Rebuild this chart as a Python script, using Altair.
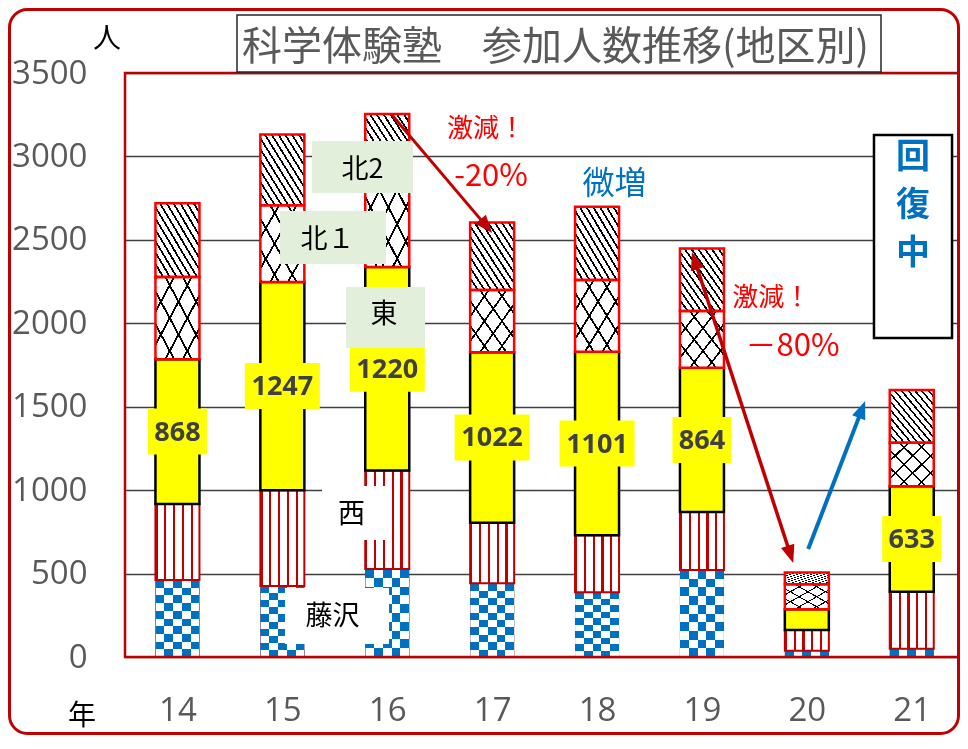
import math
import altair as alt
import pandas as pd

# ---------------- data ----------------
years = [14, 15, 16, 17, 18, 19, 20, 21]
fujisawa = [461, 425, 527, 442, 388, 521, 38, 50]
nishi = [456, 575, 590, 363, 341, 348, 124, 341]
higashi = [868, 1247, 1220, 1022, 1101, 864, 124, 633]
kita1 = [492, 460, 513, 372, 429, 340, 150, 260]
kita2 = [443, 425, 405, 405, 440, 375, 71, 316]
regions = ["藤沢", "西", "東", "北1", "北2"]
y_ticks = [0, 500, 1000, 1500, 2000, 2500, 3000, 3500]
title_text = "科学体験塾　参加人数推移(地区別)"

W, H = 835, 584
X_DOM = [13.5, 21.46]
Y_DOM = [0, 3500]
SX = W / (X_DOM[1] - X_DOM[0])
SY = H / (Y_DOM[1] - Y_DOM[0])

rows = []
for i, yr in enumerate(years):
    base = 0
    for reg, vals in zip(regions, [fujisawa, nishi, higashi, kita1, kita2]):
        v = vals[i]
        rows.append({"year": yr, "region": reg, "value": v,
                     "y0": base, "y1": base + v, "mid": base + v / 2})
        base += v
df = pd.DataFrame(rows)
one = pd.DataFrame({"k": [0]})

FONT_JP = "Noto Sans CJK JP"
FONT_NUM = "Open Sans"

xscale = alt.Scale(domain=X_DOM, nice=False, zero=False, padding=0)
yscale = alt.Scale(domain=Y_DOM, nice=False, padding=0)
xaxis = alt.Axis(values=years, format="d", labelFont=FONT_NUM, labelFontSize=33,
                 labelColor="#595959", labelPadding=53, labelBaseline="middle",
                 ticks=False, domain=False, grid=False, title=None)
yaxis = alt.Axis(values=y_ticks, format="d", labelFont=FONT_NUM, labelFontSize=33,
                 labelColor="#595959", labelPadding=38, ticks=False, domain=False,
                 grid=True, gridColor="#404040", gridWidth=1.3, title=None)


def X(f):
    return alt.X(f, type="quantitative", scale=xscale, axis=xaxis)


def Y(f):
    return alt.Y(f, type="quantitative", scale=yscale, axis=yaxis)


def bands(colors, x1, y1, x2, y2):
    n = len(colors)
    stops = []
    for i, c in enumerate(colors):
        stops.append(alt.GradientStop(offset=round(i / n, 4), color=c))
        stops.append(alt.GradientStop(offset=round((i + 1) / n, 4), color=c))
    return alt.LinearGradient(gradient="linear", stops=stops, x1=x1, y1=y1, x2=x2, y2=y2)


def lines(n, line, bg, frac, x1, y1, x2, y2):
    stops = []
    for i in range(n):
        a, b, c = i / n, (i + frac) / n, (i + 1) / n
        for off, col in [(a, line), (b, line), (b, bg), (c, bg)]:
            stops.append(alt.GradientStop(offset=round(off, 4), color=col))
    return alt.LinearGradient(gradient="linear", stops=stops, x1=x1, y1=y1, x2=x2, y2=y2)


def seg(filt, **mark):
    return (alt.Chart(df).transform_filter(filt)
            .mark_bar(size=44, **mark)
            .encode(x=X("year"), y=Y("y0"), y2=alt.Y2("y1")))


isF = alt.datum.region == "藤沢"
layers = []
# 藤沢: checker pattern built from stripes + blending
layers.append(seg(isF, fill=bands(["#000000", "#ffffff"] * 2 + ["#000000"], 0, 0, 1, 0)))
layers.append(seg(isF & (alt.datum.value > 100),
                  fill=bands(["#000000", "#ffffff"] * 5, 0, 0, 0, 1), blend="difference"))
layers.append(seg(isF, fill="#0070C0", blend="lighten"))
# 西: vertical red stripes
layers.append(seg(alt.datum.region == "西",
                  fill=lines(5, "#C00000", "#ffffff", 0.25, 0, 0, 1, 0),
                  stroke="#C00000", strokeWidth=2))
# 東: yellow
layers.append(seg(alt.datum.region == "東", fill="#FFFF00", stroke="#000000", strokeWidth=2.5))
# 北1: cross hatch
layers.append(seg(alt.datum.region == "北1", fill=lines(5, "#000000", "#ffffff", 0.12, 0, 0, 1, 1)))
layers.append(seg(alt.datum.region == "北1",
                  fill=lines(5, "#000000", "#ffffff", 0.12, 0, 1, 1, 0), blend="multiply"))
# 北2: dense diagonal hatch
layers.append(seg(alt.datum.region == "北2", fill=lines(13, "#000000", "#ffffff", 0.3, 0, 1, 1, 0)))
layers.append(seg(alt.datum.region == "北1", fill="transparent", stroke="#FF0000", strokeWidth=2.5))
layers.append(seg(alt.datum.region == "北2", fill="transparent", stroke="#FF0000", strokeWidth=2.5))

# value labels on 東
lab = alt.Chart(df).transform_filter((alt.datum.region == "東") & (alt.datum.value > 200))
layers.append(lab.transform_filter(alt.datum.value >= 1000).mark_point(
    shape="M-1,-0.613L1,-0.613L1,0.613L-1,0.613Z", size=75 * 75, filled=True,
    color="#FFFF00", opacity=1, strokeWidth=0).encode(x=X("year"), y=Y("mid")))
layers.append(lab.transform_filter(alt.datum.value < 1000).mark_point(
    shape="M-1,-0.78L1,-0.78L1,0.78L-1,0.78Z", size=59 * 59, filled=True,
    color="#FFFF00", opacity=1, strokeWidth=0).encode(x=X("year"), y=Y("mid")))
layers.append(lab.mark_text(font=FONT_NUM, fontWeight="bold", fontSize=27, color="#404040",
                            baseline="middle", dy=1).encode(
    x=X("year"), y=Y("mid"), text=alt.Text("value:Q", format="d")))

# plot frame
layers.append(alt.Chart(one).mark_rect(fill="transparent", stroke="#C00000", strokeWidth=2.5)
              .encode(x=alt.value(0), x2=alt.value(W), y=alt.value(0), y2=alt.value(H)))


def abox(x1, x2, y1, y2, fill, stroke=None, sw=0):
    d = pd.DataFrame({"bx": [x1], "bx2": [x2], "by": [y1], "by2": [y2]})
    m = {"fill": fill}
    if stroke:
        m.update(stroke=stroke, strokeWidth=sw)
    return alt.Chart(d).mark_rect(**m).encode(
        x=X("bx"), x2=alt.X2("bx2"), y=Y("by"), y2=alt.Y2("by2"))


def atext(t, x, y, color, size, weight="normal", **kw):
    d = pd.DataFrame({"tx": [x], "ty": [y], "t": [t]})
    return alt.Chart(d).mark_text(font=FONT_JP, fontSize=size, color=color, fontWeight=weight,
                                  baseline="middle", align="center", dy=2, **kw).encode(
        x=X("tx"), y=Y("ty"), text="t:N")


# arrows
arrow_specs = [
    (16.045, 3248, 17.0, 2541, "#C00000", 3, False),
    (18.905, 2427, 19.870, 563, "#C00000", 3.5, True),
    (20.013, 647, 20.556, 1534, "#0070C0", 4, False),
]
HEAD = "M0,0L0.7,1.8L-0.7,1.8Z"
for (x1, y1, x2, y2, col, sw, both) in arrow_specs:
    dxp = (x2 - x1) * SX
    dyp = -(y2 - y1) * SY
    L = math.hypot(dxp, dyp)
    ux, uy = dxp / L, dyp / L
    ang_end = math.degrees(math.atan2(dxp, -dyp)) % 360
    ang_start = (ang_end + 180) % 360
    sx2 = x2 - ux * 10 / SX
    sy2 = y2 + uy * 10 / SY
    sx1, sy1 = x1, y1
    if both:
        sx1 = x1 + ux * 10 / SX
        sy1 = y1 - uy * 10 / SY
    d = pd.DataFrame({"ax": [sx1], "ay": [sy1], "ax2": [sx2], "ay2": [sy2]})
    layers.append(alt.Chart(d).mark_rule(color=col, strokeWidth=sw, strokeCap="butt").encode(
        x=X("ax"), y=Y("ay"), x2=alt.X2("ax2"), y2=alt.Y2("ay2")))
    h = pd.DataFrame({"hx": [x2], "hy": [y2]})
    layers.append(alt.Chart(h).mark_point(shape=HEAD, size=400, filled=True, color=col, opacity=1,
                                          strokeWidth=0, angle=ang_end)
                  .encode(x=X("hx"), y=Y("hy")))
    if both:
        h2 = pd.DataFrame({"hx": [x1], "hy": [y1]})
        layers.append(alt.Chart(h2).mark_point(shape=HEAD, size=400, filled=True, color=col,
                                               opacity=1, strokeWidth=0, angle=ang_start)
                      .encode(x=X("hx"), y=Y("hy")))

# region label boxes
GREEN = "#E2EFDA"
layers += [
    abox(15.283, 16.245, 3092, 2781, GREEN), atext("北2", 15.764, 2931, "#000000", 27),
    abox(14.978, 15.988, 2673, 2355, GREEN), atext("北１", 15.430, 2511, "#000000", 27),
    abox(15.607, 16.360, 2217, 1852, GREEN), atext("東", 15.969, 2062, "#000000", 27),
    abox(15.378, 16.045, 1025, 701, "#ffffff"), atext("西", 15.659, 866, "#000000", 27),
    abox(15.025, 16.017, 414, 78, "#ffffff"), atext("藤沢", 15.478, 252, "#000000", 27),
]

# comments
layers += [
    atext("激減！", 16.941, 3179, "#FF0000", 26),
    atext("-20%", 16.989, 2889, "#FF0000", 31),
    atext("微増", 18.166, 2847, "#0070C0", 32),
    atext("激減！", 19.660, 2161, "#FF0000", 26),
    atext("－80%", 19.863, 1870, "#FF0000", 31),
    abox(20.640, 21.384, 3128, 1912, "#ffffff", "#000000", 2.5),
    atext("回", 21.012, 3003, "#0070C0", 34, "bold"),
    atext("復", 21.012, 2715, "#0070C0", 34, "bold"),
    atext("中", 21.012, 2427, "#0070C0", 34, "bold"),
]

# title box, units, outer border (decoration outside the plot area)
layers.append(alt.Chart(one).mark_rect(fill="#ffffff", stroke="#262626", strokeWidth=1.5)
              .encode(x=alt.value(112), x2=alt.value(756), y=alt.value(-58), y2=alt.value(-1)))
layers.append(alt.Chart(one).mark_text(text=title_text, font=FONT_JP, fontSize=40, color="#595959",
                                       align="left", baseline="middle")
              .encode(x=alt.value(117), y=alt.value(-25)))
layers.append(alt.Chart(one).mark_text(text="人", font=FONT_JP, fontSize=28, color="#000000",
                                       align="center", baseline="middle")
              .encode(x=alt.value(-18), y=alt.value(-33)))
layers.append(alt.Chart(one).mark_text(text="年", font=FONT_JP, fontSize=28, color="#000000",
                                       align="center", baseline="middle")
              .encode(x=alt.value(-43), y=alt.value(644)))
layers.append(alt.Chart(one).mark_rect(fill="transparent", stroke="#C00000", strokeWidth=3,
                                       cornerRadius=18)
              .encode(x=alt.value(-115.5), x2=alt.value(W - 1.5),
                      y=alt.value(-63.5), y2=alt.value(H + 78 - 1.5)))

chart = alt.layer(*layers).properties(
    width=W, height=H,
    autosize=alt.AutoSizeParams(type="none"),
    padding={"left": 117, "top": 65, "right": 0, "bottom": 78},
    background="#ffffff",
).configure_view(strokeWidth=0)

chart.save("out.html", embed_options={"renderer": "svg", "actions": False})
